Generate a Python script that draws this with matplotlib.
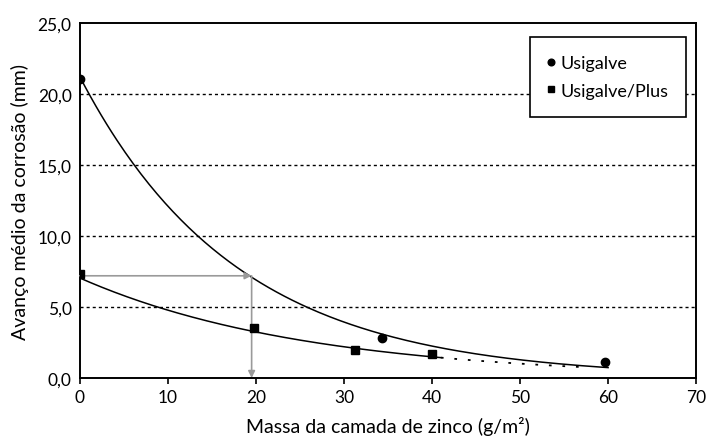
import numpy as np
import matplotlib
matplotlib.use('Agg')
import matplotlib.pyplot as plt
from matplotlib.ticker import FuncFormatter

plt.rcParams['font.family'] = ['Lato', 'DejaVu Sans']

# measured points
usig_x = [0, 34.3, 59.6]
usig_y = [21.1, 2.8, 1.1]
plus_x = [0, 19.8, 31.3, 40.0]
plus_y = [7.3, 3.5, 2.0, 1.7]

# exponential trend lines y = a * exp(-k x)
usig_a, usig_k = 21.2, 0.0561
plus_a, plus_k = 7.04, 0.0388
usig_end = 60
plus_solid_end = 41
plus_dot_end = 57

# reading guide (gray arrows)
guide_x = 19.5
guide_y = 7.2

fig = plt.figure(figsize=(7.06, 4.39), dpi=100)
ax = fig.add_axes([0.1133, 0.1367, 0.8727, 0.8083])

xs = np.linspace(0, usig_end, 200)
ax.plot(xs, usig_a * np.exp(-usig_k * xs), color='black', lw=1.1)
xs = np.linspace(0, plus_solid_end, 200)
ax.plot(xs, plus_a * np.exp(-plus_k * xs), color='black', lw=1.1)
xs = np.linspace(plus_solid_end, plus_dot_end, 100)
ax.plot(xs, plus_a * np.exp(-plus_k * xs), color='black', lw=1.3,
        linestyle=(0, (1.5, 6)))

ax.annotate('', xy=(guide_x, guide_y), xytext=(0, guide_y),
            arrowprops=dict(arrowstyle='-|>', color='#9a9a9a', lw=1.2,
                            mutation_scale=10, shrinkA=0, shrinkB=0))
ax.annotate('', xy=(guide_x, 0), xytext=(guide_x, guide_y),
            arrowprops=dict(arrowstyle='-|>', color='#9a9a9a', lw=1.2,
                            mutation_scale=10, shrinkA=0, shrinkB=0))

ax.plot(usig_x, usig_y, 'o', color='black', ms=6, label='Usigalve', zorder=5)
ax.plot(plus_x, plus_y, 's', color='black', ms=6, label='Usigalve/Plus', zorder=5)

ax.set_xlim(0, 70)
ax.set_ylim(0, 25)
ax.set_xticks(range(0, 71, 10))
ax.set_yticks(np.arange(0, 25.1, 5))
ax.yaxis.set_major_formatter(FuncFormatter(lambda v, p: f'{v:.1f}'.replace('.', ',')))
for yv in [5, 10, 15, 20]:
    ax.axhline(yv, color='black', lw=1.0, linestyle=(0, (2.2, 2.2)), zorder=0)

ax.tick_params(axis='both', labelsize=12.5, length=0, pad=6)
ax.tick_params(axis='x', length=4, width=1.2, direction='out', pad=4)
for s in ax.spines.values():
    s.set_linewidth(1.4)

ax.set_xlabel('Massa da camada de zinco (g/m²)', fontsize=14, labelpad=8)
ax.set_ylabel('Avanço médio da corrosão (mm)', fontsize=14, labelpad=6)

leg = ax.legend(loc='upper right', bbox_to_anchor=(0.984, 0.961), borderaxespad=0,
                fontsize=13, frameon=True, fancybox=False, framealpha=1,
                edgecolor='black', handlelength=0.35, handletextpad=0.35,
                markerscale=0.8, borderpad=1.0, labelspacing=0.65)
leg.get_frame().set_linewidth(1.2)

fig.savefig('out.png', dpi=100)
